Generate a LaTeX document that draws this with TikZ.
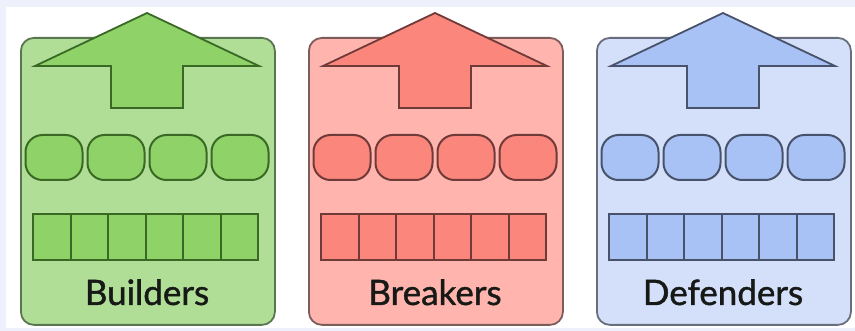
\documentclass[tikz,border=0pt]{standalone}
\usepackage{fontspec}
\setmainfont{Lato}
\newfontfamily\capfont{Lato}[FakeBold=1.2]
\definecolor{bgl}{RGB}{238,240,251}
\definecolor{gpan}{RGB}{176,222,150}
\definecolor{gin}{RGB}{142,210,104}
\definecolor{gdr}{RGB}{58,105,38}
\definecolor{gbd}{RGB}{90,118,80}
\definecolor{rpan}{RGB}{255,180,174}
\definecolor{rin}{RGB}{250,134,124}
\definecolor{rdr}{RGB}{112,58,56}
\definecolor{rbd}{RGB}{125,92,92}
\definecolor{bpan}{RGB}{212,224,250}
\definecolor{bin}{RGB}{168,194,245}
\definecolor{bdr}{RGB}{72,82,106}
\definecolor{bbd}{RGB}{105,110,125}
\definecolor{txt}{RGB}{22,25,22}
\tikzset{
  panelbox/.style={rounded corners=13pt, line width=1.8pt, minimum width=254pt, minimum height=287pt, anchor=north west, inner sep=0pt},
  pillbox/.style={rounded corners=17pt, line width=2pt, minimum width=57pt, minimum height=45pt, inner sep=0pt},
  cellbox/.style={line width=2pt, minimum width=37.5pt, minimum height=46pt, inner sep=0pt},
  arrowshape/.style={line width=1.8pt, line join=miter},
  caption/.style={font=\capfont\fontsize{35}{35}\selectfont, text=txt, inner sep=0pt, anchor=base}
}
\begin{document}
\begin{tikzpicture}[x=1pt,y=-1pt]
\useasboundingbox (0,0) rectangle (855,331);
\fill[bgl] (0,0) rectangle (855,331);
\fill[white] (6,7) rectangle (855,328);
\foreach \k/\L/\pan/\inn/\drk/\bd/\name in {1/20/gpan/gin/gdr/gbd/Builders, 2/308/rpan/rin/rdr/rbd/Breakers, 3/596/bpan/bin/bdr/bbd/Defenders}{
  \node[panelbox, fill=\pan, draw=\bd] (panel\k) at (\L,37) {};
  \coordinate (apex\k) at (\L+127,13);
  \coordinate (rt\k) at (\L+239,66);
  \coordinate (rs\k) at (\L+163,66);
  \coordinate (rb\k) at (\L+163,108);
  \coordinate (lb\k) at (\L+91,108);
  \coordinate (ls\k) at (\L+91,66);
  \coordinate (lt\k) at (\L+15,66);
  \draw[arrowshape, fill=\inn, draw=\drk] (apex\k) -- (rt\k) -- (rs\k) -- (rb\k) -- (lb\k) -- (ls\k) -- (lt\k) -- cycle;
  \foreach \i in {0,...,3}{
    \node[pillbox, fill=\inn, draw=\drk] (pill\k-\i) at (\L+34+62*\i,157.5) {};
  }
  \foreach \i in {0,...,5}{
    \node[cellbox, fill=\inn, draw=\drk] (cell\k-\i) at (\L+31.75+37.5*\i,237) {};
  }
  \node[caption] (label\k) at (\L+127,305) {\name};
}
\end{tikzpicture}
\end{document}
